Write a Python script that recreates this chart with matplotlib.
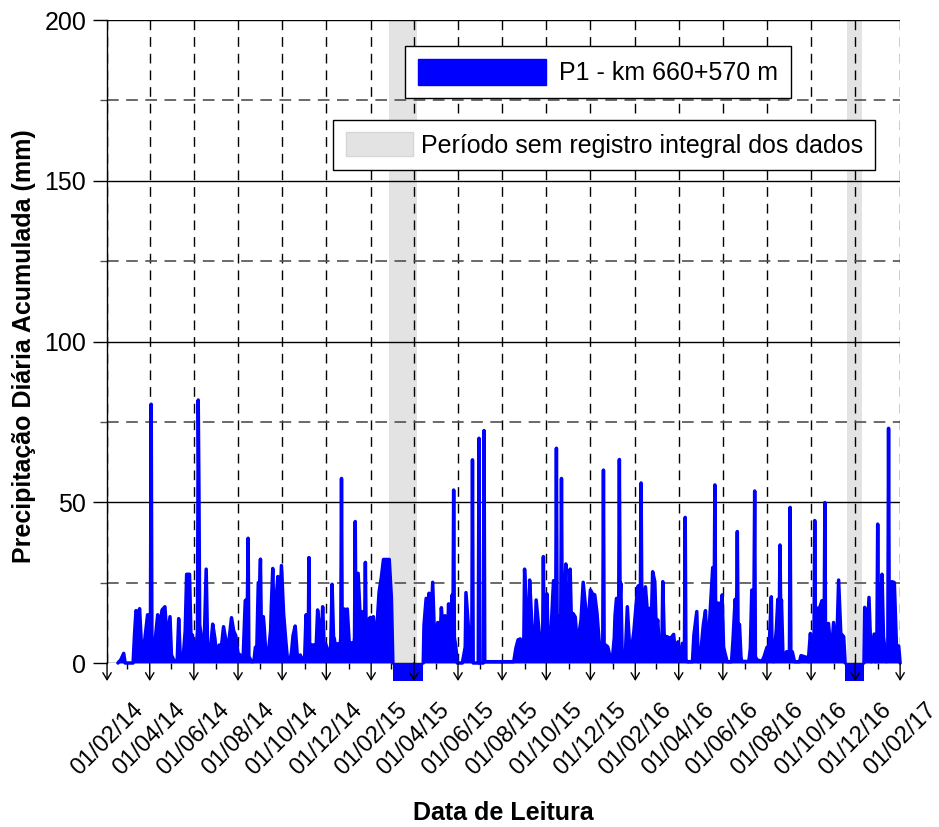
import numpy as np
import pandas as pd
import matplotlib
matplotlib.use("Agg")
import matplotlib.pyplot as plt
import matplotlib.dates as mdates
from matplotlib.patches import Patch

plt.rcParams["font.family"] = ["Liberation Sans", "DejaVu Sans"]

# ===== dados (dias contados a partir de 01/02/2014, chuva em mm) =====
inicio = pd.Timestamp("2014-02-01")

# período 1: fev/2014 a mar/2015
dias_p1 = [15, 19, 23, 25, 36, 38, 40, 43, 45, 48, 52, 56, 58, 60, 61, 62, 66, 70, 72, 76,
           80, 83, 87, 89, 93, 97, 99, 101, 103, 105, 108, 110, 112, 114, 116, 118, 122, 125, 126, 127,
           128, 131, 134, 137, 139, 142, 146, 149, 152, 155, 158, 161, 165, 168, 172, 175, 178, 181, 184, 188,
           191, 194, 195, 196, 200, 203, 205, 207, 209, 211, 212, 213, 216, 217, 220, 222, 226, 227, 229, 231,
           233, 236, 238, 241, 244, 247, 249, 251, 253, 255, 257, 260, 263, 265, 267, 270, 273, 275, 278, 279,
           280, 282, 286, 289, 291, 294, 296, 298, 300, 302, 306, 309, 311, 313, 314, 317, 319, 322, 323, 324,
           325, 326, 328, 330, 332, 335, 338, 341, 342, 343, 344, 347, 350, 352, 355, 356, 357, 358, 361, 364,
           366, 368, 370, 372, 374, 376, 379, 382, 386, 390, 393, 395]
chuva_p1 = [0, 1, 3, 0, 0, 9, 16.3, 15, 16.9, 3.5, 7, 15, 5, 14, 80.5, 7, 6, 15, 10, 16.5,
            17.5, 7, 14.4, 2.5, 0.5, 1, 13.8, 3, 2, 1, 10, 27.6, 27.6, 27.6, 8, 8.7, 1, 10, 81.8, 53.8,
            12, 7, 4, 29.2, 5, 1.5, 12.1, 7.7, 1, 5.6, 5, 11.3, 6, 6, 14.1, 10, 8.4, 3, 2.5, 1,
            19.4, 20, 38.8, 2, 0.4, 0.5, 4.9, 5, 25, 25, 32.3, 14.4, 14.4, 11.8, 1, 1, 10, 17.5, 29.4, 12,
            17.5, 26.9, 12, 30.3, 15.4, 7, 2, 0.5, 1, 3.5, 8.5, 11.5, 2, 1, 2.5, 1, 1, 15, 5, 32.8,
            5, 5.6, 5.6, 5, 16.5, 10, 8, 17.5, 6, 6, 3.5, 4, 24.5, 8, 7.7, 3, 6, 5, 8, 57.4,
            8, 9, 16.8, 10, 16.8, 5, 6.3, 5, 8, 44, 8, 27.9, 13.4, 16, 10, 12, 31.3, 10, 13.4, 14.2,
            8, 14.4, 10, 6, 15, 22.2, 26.5, 32.2, 32.2, 32.2, 20.1, 0]

# período 2: abr/2015 a nov/2016
dias_p2 = [437, 438, 441, 443, 445, 447, 450, 453, 457, 459, 462, 465, 467, 470, 472, 474, 477, 478, 479, 480,
           482, 484, 491, 495, 496, 499, 502, 504, 505, 506, 513, 514, 515, 520, 521, 522, 562, 565, 568, 571,
           573, 576, 577, 580, 582, 584, 587, 591, 593, 597, 600, 602, 603, 604, 605, 608, 610, 614, 617, 619,
           620, 621, 622, 624, 627, 628, 629, 631, 634, 636, 638, 640, 642, 644, 647, 650, 652, 655, 658, 661,
           664, 668, 671, 674, 677, 680, 682, 685, 686, 687, 689, 692, 695, 698, 701, 702, 704, 707, 708, 709,
           710, 712, 713, 716, 719, 722, 725, 728, 732, 734, 737, 738, 739, 741, 744, 748, 750, 752, 754, 757,
           759, 761, 764, 767, 768, 770, 771, 774, 777, 779, 783, 786, 789, 791, 795, 798, 799, 800, 802, 809,
           811, 815, 817, 820, 824, 827, 830, 833, 837, 839, 840, 841, 843, 846, 848, 850, 852, 854, 857, 863,
           865, 868, 870, 871, 872, 874, 876, 877, 887, 889, 891, 894, 895, 896, 898, 905, 908, 912, 915, 918,
           919, 921, 925, 927, 929, 930, 931, 932, 934, 935, 939, 942, 943, 944, 945, 947, 950, 957, 959, 963,
           966, 969, 972, 974, 977, 978, 979, 980, 982, 985, 988, 991, 992, 993, 994, 997, 1001, 1004, 1008, 1011,
           1014, 1018, 1020]
chuva_p2 = [0, 11.8, 20.1, 12, 21.7, 8, 25.1, 5, 12.6, 1, 17.2, 8, 14.7, 5, 18.4, 4, 21.2, 10, 53.8, 8,
            5, 0, 0, 5, 21.9, 12.3, 3, 1, 63.2, 0, 0, 69.9, 0, 0, 72.3, 0.4, 0.4, 4.6, 7.2, 7.5,
            3, 8, 29.2, 12.3, 6, 25.8, 12.3, 3, 19.6, 10, 4, 8, 33.1, 8, 10, 21.5, 2, 11.8, 25.6, 12,
            14, 66.8, 14, 14, 15, 57.4, 14, 12.3, 30.8, 10, 13.4, 29.2, 10, 15.4, 14.3, 5.6, 8.7, 13.4, 25.1, 18,
            9.2, 22.7, 21.5, 21.2, 15.7, 7, 3, 4, 60, 3, 5.6, 5, 2, 0.4, 8, 14.7, 20.1, 15, 63.3, 20,
            24.8, 1, 1, 1, 17.5, 5.6, 4.6, 9.7, 20.4, 24, 20, 56, 20, 17.5, 23.7, 12.3, 17, 12, 28.4, 25.3,
            10, 13.4, 1.5, 8, 25.3, 8, 8.2, 8.2, 7.7, 7.7, 8.9, 2, 6.6, 1, 6.1, 6, 45.3, 1, 0.4, 0.4,
            8.7, 16, 0.4, 2, 11.8, 16.3, 2, 14.2, 29.7, 18, 55.4, 18, 18.6, 18.6, 10, 21.2, 5, 3, 0.4, 0.4,
            7, 19.8, 15, 40.9, 12, 12, 2, 0.5, 0.5, 4.6, 22.7, 20, 53.5, 2, 1, 0.5, 2, 4.9, 4.9, 20.6,
            5, 0.4, 10.6, 19.8, 15, 36.7, 15, 19.6, 3, 1, 3.5, 3.5, 3, 48.4, 3, 3.5, 0.4, 0.4, 2.3, 2,
            1.8, 0.4, 9.2, 2, 8, 44.3, 10, 14, 17, 17.3, 19.4, 10, 49.9, 5, 2, 12.3, 2, 12.6, 2, 25.8,
            9.2, 8.2, 0]

# período 3: dez/2016 a fev/2017
dias_p3 = [1046, 1047, 1049, 1053, 1056, 1060, 1062, 1064, 1065, 1066, 1068, 1071, 1073, 1077, 1079, 1080,
           1081, 1083, 1085, 1088, 1091, 1094, 1096]
chuva_p3 = [0, 17.3, 2, 20.4, 0.4, 9, 0.4, 10, 43.2, 10, 12.3, 27.6, 8.2, 0.4, 5, 73,
            10, 12.3, 25.3, 25, 5, 5.3, 0]

# períodos sem registro integral dos dados
sem_registro_ini = ["2015-02-25", "2016-11-20"]
sem_registro_fim = ["2015-04-06", "2016-12-10"]
falha_ini = ["2015-03-03", "2016-11-17"]
falha_fim = ["2015-04-14", "2016-12-13"]
falha_valor = -5.6

azul = "#0000ff"
cinza = "#e3e3e3"

fig = plt.figure(figsize=(9.39, 8.27), dpi=100)
ax = fig.add_axes([0.114, 0.1983, 0.8446, 0.7775])

for a, b in zip(sem_registro_ini, sem_registro_fim):
    ax.axvspan(pd.Timestamp(a), pd.Timestamp(b), color=cinza, lw=0, zorder=0)

for dias, chuva in [(dias_p1, chuva_p1), (dias_p2, chuva_p2), (dias_p3, chuva_p3)]:
    x = inicio + pd.to_timedelta(dias, unit="D")
    ax.fill_between(x, 0, chuva, color=azul, lw=0, zorder=3)
    ax.plot(x, chuva, color=azul, lw=2.5, solid_joinstyle="round",
            solid_capstyle="round", clip_on=False, zorder=3)

for a, b in zip(falha_ini, falha_fim):
    ax.fill_between([pd.Timestamp(a), pd.Timestamp(b)], falha_valor, 0,
                    color=azul, lw=0, clip_on=False, zorder=3)

ax.set_xlim(pd.Timestamp("2014-02-01"), pd.Timestamp("2017-02-01"))
ax.set_ylim(0, 200)

ax.xaxis.set_major_locator(mdates.MonthLocator(bymonth=[2, 4, 6, 8, 10, 12], bymonthday=1))
ax.xaxis.set_minor_locator(mdates.MonthLocator(bymonthday=1))
ax.xaxis.set_major_formatter(mdates.DateFormatter("%d/%m/%y"))
ax.set_yticks([0, 50, 100, 150, 200])
ax.set_yticks([25, 75, 125, 175], minor=True)

ax.set_axisbelow(True)
ax.grid(which="major", axis="y", color="black", lw=1, ls="-")
ax.grid(which="minor", axis="y", color="#505050", lw=1.2, ls=(0, (7, 4.5)))
ax.grid(which="major", axis="x", color="black", lw=1, ls=(0, (7, 5)))

for s in ["top", "right", "bottom"]:
    ax.spines[s].set_visible(False)
ax.spines["left"].set_color("black")
ax.spines["left"].set_linewidth(1)

ax.tick_params(axis="y", which="major", length=10, width=1, pad=5, labelsize=18)
ax.tick_params(axis="y", which="minor", length=5, width=1, color="#505050")
ax.tick_params(axis="x", which="major", length=0, pad=26, labelsize=17)
ax.tick_params(axis="x", which="minor", length=4.5, width=1)
for lab in ax.get_xticklabels():
    lab.set_rotation(45)
    lab.set_ha("center")

# setas nos ticks principais do eixo x
trans = ax.get_xaxis_transform()
for t in ax.get_xticks():
    ax.annotate("", xy=(t, -0.028), xytext=(t, 0), xycoords=trans, textcoords=trans,
                arrowprops=dict(arrowstyle="->,head_length=0.5,head_width=0.3",
                                color="black", lw=1, shrinkA=0, shrinkB=0,
                                mutation_scale=10))

ax.set_ylabel("Precipitação Diária Acumulada (mm)", fontsize=18, fontweight="bold")
ax.yaxis.set_label_coords(-0.09, 0.493)
ax.set_xlabel("Data de Leitura", fontsize=18, fontweight="bold")
ax.xaxis.set_label_coords(0.5, -0.215)

leg1 = ax.legend(handles=[Patch(facecolor=azul, edgecolor=azul)], labels=["P1 - km 660+570 m"],
                 loc="upper left", bbox_to_anchor=(0.3758, 0.9596), borderaxespad=0,
                 fontsize=18, handlelength=5.1, handleheight=1.2, handletextpad=0.52,
                 borderpad=0.52, fancybox=False, edgecolor="black", framealpha=1)
leg1.get_frame().set_linewidth(1)
ax.add_artist(leg1)
leg2 = ax.legend(handles=[Patch(facecolor=cinza, edgecolor="#d6d6d6")],
                 labels=["Período sem registro integral dos dados"],
                 loc="upper left", bbox_to_anchor=(0.285, 0.8445), borderaxespad=0,
                 fontsize=18, handlelength=2.7, handleheight=1.04, handletextpad=0.3,
                 borderpad=0.5, fancybox=False, edgecolor="black", framealpha=1)
leg2.get_frame().set_linewidth(1)

fig.savefig("out.png", dpi=100)
